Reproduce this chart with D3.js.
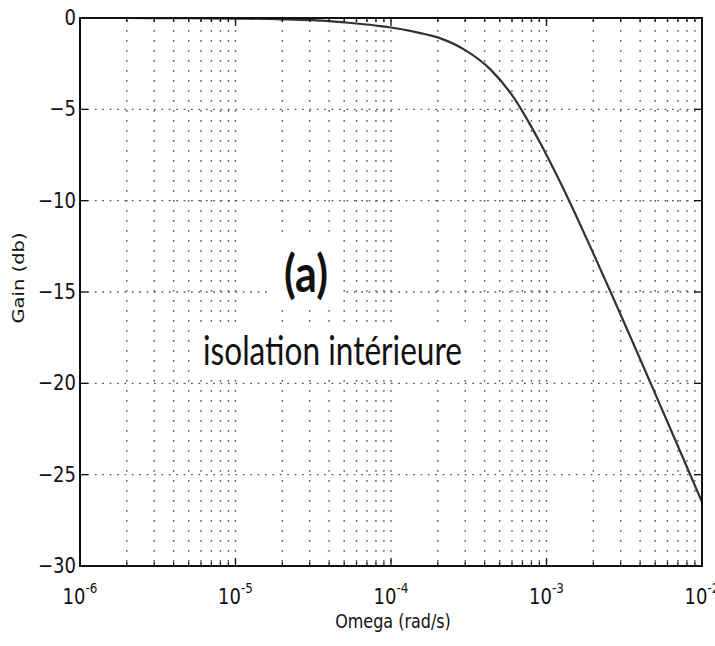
<!DOCTYPE html>
<html><head><meta charset="utf-8">
<script src="https://cdn.jsdelivr.net/npm/d3@7"></script>
<style>body{margin:0;background:#fff}</style>
</head><body><svg id="c" width="715" height="646"></svg>
<script>
// Data (Bode gain plot)
const omega = [1e-6, 2e-6, 5e-6, 1e-5, 2e-5, 4e-5, 6e-5, 8.5e-5, 1e-4, 1.4e-4, 2.06e-4, 3e-4, 4.34e-4, 6.1e-4, 7.6e-4, 9.1e-4, 1.1e-3, 1.415e-3, 1.95e-3, 2.64e-3, 3.6e-3, 4.84e-3, 6.7e-3, 8.43e-3, 1e-2];
const gainDb = [0, 0, -0.01, -0.03, -0.07, -0.17, -0.3, -0.44, -0.52, -0.75, -1.1, -1.76, -2.8, -4.31, -5.63, -6.83, -8.19, -10.1, -12.68, -15.18, -17.78, -20.29, -23.06, -25.03, -26.5];
const xTickExponents = [-6, -5, -4, -3, -2];
const yTickValues = [0, -5, -10, -15, -20, -25, -30];
const yTickLabels = ["0", "\u22125", "\u221210", "\u221215", "\u221220", "\u221225", "\u221230"];
const xAxisTitle = "Omega (rad/s)";
const yAxisTitle = "Gain (db)";
const panelLabel = "(a)";
const subtitle = "isolation int\u00e9rieure";

const L = 80, R = 702, T = 18, B = 566;
const svg = d3.select("#c");
const x = d3.scaleLog().domain([1e-6, 1e-2]).range([L, R]);
const y = d3.scaleLinear().domain([-30, 0]).range([B, T]);
const SY = 1.22; // vertical stretch of the reference's text

// minor / major x positions
const minors = [];
for (let e = -6; e < -2; e++) for (let m = 2; m <= 9; m++) minors.push(m * Math.pow(10, e));
const majors = xTickExponents.map(e => Math.pow(10, e));

// grid
const grid = svg.append("g").attr("stroke", "#5a5a5a").attr("stroke-width", 1.4).attr("fill", "none");
grid.selectAll("line.v").data(minors.concat(majors.slice(1, -1))).join("line")
  .attr("x1", d => x(d)).attr("x2", d => x(d)).attr("y1", T + 2).attr("y2", B)
  .attr("stroke-dasharray", "1.8,8.2");
grid.selectAll("line.h").data(yTickValues.slice(1, -1)).join("line")
  .attr("x1", L).attr("x2", R).attr("y1", d => y(d)).attr("y2", d => y(d))
  .attr("stroke-dasharray", "1.8,5.6");

// white boxes behind annotations
svg.append("rect").attr("x", 268).attr("y", 236).attr("width", 74).attr("height", 68).attr("fill", "#fff");
svg.append("rect").attr("x", 198).attr("y", 322).attr("width", 270).attr("height", 56).attr("fill", "#fff");

// curve
svg.append("defs").append("clipPath").attr("id", "clip").append("rect")
  .attr("x", L).attr("y", T).attr("width", R - L).attr("height", B - T);
const line = d3.line().x((d, i) => x(omega[i])).y(d => y(d)).curve(d3.curveMonotoneX);
svg.append("path").datum(gainDb).attr("d", line).attr("clip-path", "url(#clip)")
  .attr("fill", "none").attr("stroke", "#333").attr("stroke-width", 2.2);

// frame
svg.append("rect").attr("x", L).attr("y", T).attr("width", R - L).attr("height", B - T)
  .attr("fill", "none").attr("stroke", "#111").attr("stroke-width", 2);

// ticks (inward, all sides)
const tk = svg.append("g").attr("stroke", "#111").attr("stroke-width", 1.3);
minors.forEach(d => {
  tk.append("line").attr("x1", x(d)).attr("x2", x(d)).attr("y1", B).attr("y2", B - 4);
  tk.append("line").attr("x1", x(d)).attr("x2", x(d)).attr("y1", T).attr("y2", T + 4);
});
majors.forEach(d => {
  tk.append("line").attr("x1", x(d)).attr("x2", x(d)).attr("y1", B).attr("y2", B - 8);
  tk.append("line").attr("x1", x(d)).attr("x2", x(d)).attr("y1", T).attr("y2", T + 8);
});
yTickValues.forEach(v => {
  tk.append("line").attr("x1", L).attr("x2", L + 8).attr("y1", y(v)).attr("y2", y(v));
  tk.append("line").attr("x1", R).attr("x2", R - 8).attr("y1", y(v)).attr("y2", y(v));
});

const FONT = "'DejaVu Sans', sans-serif";
// y tick labels
yTickValues.forEach((v, i) => {
  svg.append("text").attr("transform", `translate(76,${y(v) + 7}) scale(1,${SY})`)
    .attr("text-anchor", "end").attr("font-family", FONT).attr("font-size", 18).attr("fill", "#111")
    .text(yTickLabels[i]);
});
// x tick labels
xTickExponents.forEach(e => {
  const t = svg.append("text").attr("transform", `translate(${x(Math.pow(10, e))},604) scale(1,${SY})`)
    .attr("text-anchor", "middle").attr("font-family", FONT).attr("font-size", 18).attr("fill", "#111");
  t.append("tspan").text("10");
  t.append("tspan").attr("dy", -9).attr("font-size", 12).text("-" + Math.abs(e));
});
// axis titles
svg.append("text").attr("transform", `translate(393,628) scale(1,${SY})`)
  .attr("text-anchor", "middle").attr("font-family", FONT).attr("font-size", 16).attr("fill", "#111")
  .text(xAxisTitle);
svg.append("text").attr("transform", `translate(24,278) rotate(-90) scale(${SY},1)`)
  .attr("text-anchor", "middle").attr("font-family", FONT).attr("font-size", 16).attr("fill", "#111")
  .text(yAxisTitle);

// annotations
svg.append("text").attr("transform", `translate(306,292) scale(1,1.22)`)
  .attr("text-anchor", "middle").attr("font-family", "Lato, 'Open Sans', sans-serif")
  .attr("font-weight", "bold").attr("font-size", 43).attr("fill", "#111").text(panelLabel);
svg.append("text").attr("transform", `translate(203,365) scale(1,1.25)`)
  .attr("font-family", "Lato, 'Open Sans', sans-serif").attr("font-size", 32).attr("fill", "#111")
  .attr("textLength", 259).attr("lengthAdjust", "spacingAndGlyphs").text(subtitle);
</script></body></html>
